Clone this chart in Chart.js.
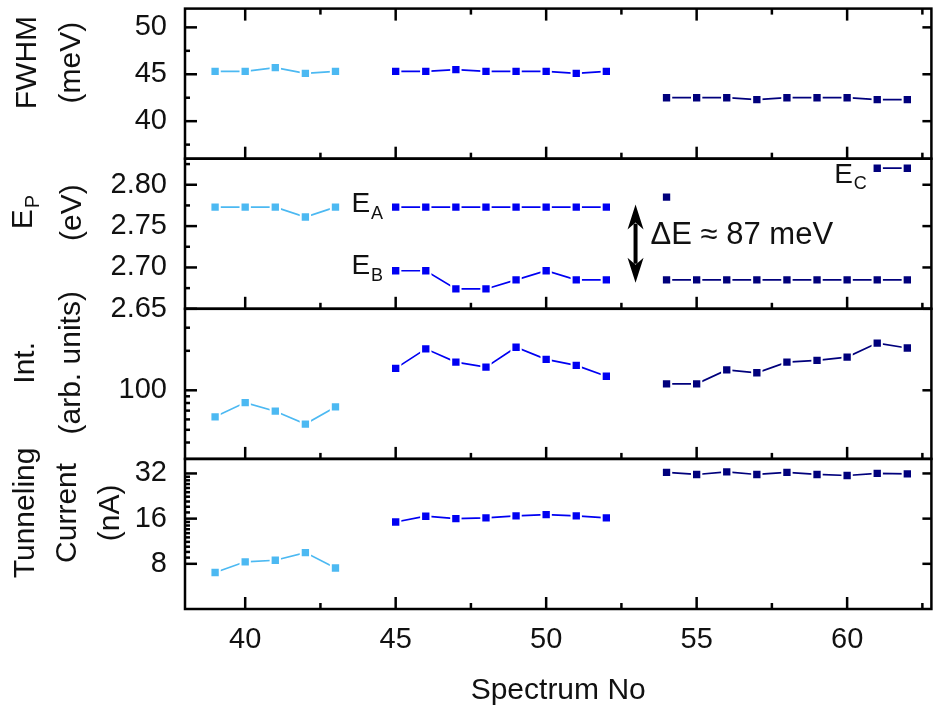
<!DOCTYPE html>
<html>
<head>
<meta charset="utf-8">
<script src="https://cdn.jsdelivr.net/npm/chart.js@4.4.0/dist/chart.umd.min.js"></script>
<style>
  html, body { margin: 0; padding: 0; overflow: hidden; background: #fff; }
  #wrap { width: 940px; height: 713px; }
</style>
</head>
<body>
<div id="wrap"><canvas id="chart" width="940" height="713"></canvas></div>
<script>
// spectrum numbers of the three runs
const spectraA = [39, 40, 41, 42, 43];
const spectraB = [45, 46, 47, 48, 49, 50, 51, 52];
const spectraC = [54, 55, 56, 57, 58, 59, 60, 61, 62];

// FWHM (meV)
const fwhmA = [45.3, 45.3, 45.7, 45.1, 45.3];
const fwhmB = [45.3, 45.3, 45.5, 45.3, 45.3, 45.3, 45.1, 45.3];
const fwhmC = [42.5, 42.5, 42.5, 42.3, 42.5, 42.5, 42.5, 42.3, 42.3];

// peak energies (eV)
const epA = [2.773, 2.773, 2.773, 2.761, 2.773];
const epB_A = [2.773, 2.773, 2.773, 2.773, 2.773, 2.773, 2.773, 2.773];
const epB_B = [2.696, 2.696, 2.674, 2.674, 2.685, 2.696, 2.685, 2.685];
const epC_B = [2.685, 2.685, 2.685, 2.685, 2.685, 2.685, 2.685, 2.685, 2.685];
const epC_C = [2.785, null, null, null, null, null, null, 2.82, 2.82];

// intensity (arb. units)
const intA = [62.8, 80.6, 69.3, 55.3, 74.7];
const intB = [147, 207, 164, 150, 213, 172, 155, 128];
const intC = [112, 112, 143, 136, 164, 169, 179, 229, 210];

// tunneling current (nA)
const curA = [7.0, 8.25, 8.45, 9.5, 7.5];
const curB = [15.2, 16.6, 16.0, 16.2, 16.7, 17.0, 16.7, 16.2];
const curC = [32.5, 31.5, 32.8, 31.5, 32.5, 31.5, 31.0, 32.0, 31.8];

// ticks
const xTicks = [40, 42.5, 45, 47.5, 50, 52.5, 55, 57.5, 60, 62.5];
const fwhmTicks = [37.5, 40, 42.5, 45, 47.5, 50];
const fwhmMajor = [40, 45, 50];
const epTicks = [2.65, 2.675, 2.7, 2.725, 2.75, 2.775, 2.8, 2.825];
const epMajor = [2.65, 2.7, 2.75, 2.8];
const intTicks = [40, 50, 60, 70, 80, 90, 100, 200, 300];
const intMajor = [100];
const curTicks = [8, 8.8, 9.6, 10.4, 11.2, 12, 12.8, 13.6, 14.4, 15.2, 16,
  17.6, 19.2, 20.8, 22.4, 24, 25.6, 27.2, 28.8, 30.4, 32];
const curMajor = [8, 16, 32];

// texts
const xTitle = 'Spectrum No';
const fwhmTitle = [['FWHM'], ['(meV)']];
const epTitle = [['E', 'P'], ['(eV)']];
const intTitle = [['Int.'], ['(arb. units)']];
const curTitle = [['Tunneling'], ['Current'], ['(nA)']];
const deltaLabel = '\u0394E \u2248 87 meV';

const FONT = '"Liberation Sans", Arial, sans-serif';
const LIGHT = '#4cb9f2';
const BLUE = '#0000f2';
const NAVY = '#00007c';
const INK = '#111';

function series(xs, ys, color, axis) {
  return {
    data: xs.map((x, i) => ({ x: x, y: ys[i] })),
    yAxisID: axis,
    borderColor: color,
    backgroundColor: color,
    pointBackgroundColor: color,
    pointBorderColor: '#fff',
    pointBorderWidth: 2,
    pointRadius: 6.6,
    pointStyle: 'rect',
    borderWidth: 1.7,
    spanGaps: false
  };
}

function yScale(type, min, max, ticks, major, fmt) {
  return {
    type: type, min: min, max: max,
    position: 'left', stack: 'panels', stackWeight: 1,
    grid: { display: false, drawTicks: false },
    border: { display: false },
    afterBuildTicks: s => { s.ticks = ticks.map(v => ({ value: v })); },
    afterFit: s => { s.width = 185; s.paddingTop = 0; s.paddingBottom = 0; },
    ticks: {
      autoSkip: false, padding: 18, color: INK,
      font: { size: 29, family: FONT },
      callback: v => major.includes(v) ? fmt(v) : ''
    }
  };
}

// top to bottom
const panels = [
  { id: 'yF', title: fwhmTitle, cols: [28, 72], major: fwhmMajor },
  { id: 'yE', title: epTitle, cols: [24, 73], major: epMajor },
  { id: 'yI', title: intTitle, cols: [26, 72], major: intMajor },
  { id: 'yC', title: curTitle, cols: [26, 68, 111], major: curMajor }
];

function subText(ctx, main, sub, x, y, size, align) {
  const subSize = Math.round(size * 0.66);
  ctx.font = size + 'px ' + FONT;
  const w1 = ctx.measureText(main).width;
  let w2 = 0;
  if (sub) {
    ctx.font = subSize + 'px ' + FONT;
    w2 = ctx.measureText(sub).width;
  }
  const x0 = align === 'center' ? x - (w1 + w2) / 2 : x;
  ctx.textAlign = 'left';
  ctx.textBaseline = 'middle';
  ctx.font = size + 'px ' + FONT;
  ctx.fillText(main, x0, y);
  if (sub) {
    ctx.font = subSize + 'px ' + FONT;
    ctx.fillText(sub, x0 + w1 + 1, y + size * 0.33);
  }
}

function seg(ctx, x1, y1, x2, y2) {
  ctx.beginPath();
  ctx.moveTo(x1, y1);
  ctx.lineTo(x2, y2);
  ctx.stroke();
}

const frame = {
  id: 'frame',
  afterDraw(chart) {
    const ctx = chart.ctx;
    const area = chart.chartArea;
    const xs = chart.scales.x;
    ctx.save();
    ctx.strokeStyle = '#000';
    ctx.fillStyle = INK;
    ctx.lineWidth = 2.5;
    panels.forEach((p, k) => {
      const s = chart.scales[p.id];
      ctx.strokeRect(area.left, s.top, area.right - area.left, s.bottom - s.top);
      s.ticks.forEach(t => {
        const y = s.getPixelForValue(t.value);
        const major = p.major.includes(t.value);
        seg(ctx, area.left, y, area.left + (major ? 12 : 5), y);
        if (major) seg(ctx, area.right, y, area.right - 9, y);
      });
      xTicks.forEach(v => {
        const px = xs.getPixelForValue(v);
        const len = v % 5 === 0 ? 12 : 6;
        seg(ctx, px, s.bottom, px, s.bottom - len);
        if (k === 0) seg(ctx, px, s.top, px, s.top + len);
      });
      // rotated axis titles
      const cy = s.top + 54;
      p.title.forEach((line, i) => {
        ctx.save();
        ctx.translate(p.cols[i], cy);
        ctx.rotate(-Math.PI / 2);
        subText(ctx, line[0], line[1], 0, 0, 30, 'center');
        ctx.restore();
      });
    });

    // labels inside the energy panel
    const ye = chart.scales.yE;
    subText(ctx, 'E', 'A', xs.getPixelForValue(43.53), ye.getPixelForValue(2.776), 28, 'left');
    subText(ctx, 'E', 'B', xs.getPixelForValue(43.53), ye.getPixelForValue(2.701), 28, 'left');
    subText(ctx, 'E', 'C', xs.getPixelForValue(59.57), ye.getPixelForValue(2.812), 28, 'left');
    ctx.font = '31px ' + FONT;
    ctx.textAlign = 'left';
    ctx.textBaseline = 'middle';
    ctx.fillText(deltaLabel, xs.getPixelForValue(53.47), ye.getPixelForValue(2.7385));

    // double arrow
    const ax = xs.getPixelForValue(52.97);
    const y1 = ye.getPixelForValue(2.776);
    const y2 = ye.getPixelForValue(2.6815);
    const head = 25, hw = 8;
    ctx.fillStyle = '#000';
    ctx.lineWidth = 4;
    seg(ctx, ax, y1 + head - 6, ax, y2 - head + 6);
    ctx.beginPath();
    ctx.moveTo(ax, y1);
    ctx.lineTo(ax + hw, y1 + head);
    ctx.lineTo(ax, y1 + head - 7);
    ctx.lineTo(ax - hw, y1 + head);
    ctx.closePath();
    ctx.fill();
    ctx.beginPath();
    ctx.moveTo(ax, y2);
    ctx.lineTo(ax + hw, y2 - head);
    ctx.lineTo(ax, y2 - head + 7);
    ctx.lineTo(ax - hw, y2 - head);
    ctx.closePath();
    ctx.fill();
    ctx.restore();
  }
};

new Chart(document.getElementById('chart'), {
  type: 'line',
  data: {
    datasets: [
      series(spectraA, fwhmA, LIGHT, 'yF'),
      series(spectraB, fwhmB, BLUE, 'yF'),
      series(spectraC, fwhmC, NAVY, 'yF'),
      series(spectraA, epA, LIGHT, 'yE'),
      series(spectraB, epB_A, BLUE, 'yE'),
      series(spectraB, epB_B, BLUE, 'yE'),
      series(spectraC, epC_B, NAVY, 'yE'),
      series(spectraC, epC_C, NAVY, 'yE'),
      series(spectraA, intA, LIGHT, 'yI'),
      series(spectraB, intB, BLUE, 'yI'),
      series(spectraC, intC, NAVY, 'yI'),
      series(spectraA, curA, LIGHT, 'yC'),
      series(spectraB, curB, BLUE, 'yC'),
      series(spectraC, curC, NAVY, 'yC')
    ]
  },
  options: {
    responsive: false,
    animation: false,
    layout: { padding: { left: 0, right: 4, top: 5, bottom: 0 } },
    plugins: { legend: { display: false }, tooltip: { enabled: false } },
    scales: {
      x: {
        type: 'linear', min: 38, max: 62.8,
        grid: { display: false, drawTicks: false },
        border: { display: false },
        afterBuildTicks: s => { s.ticks = xTicks.map(v => ({ value: v })); },
        afterFit: s => { s.height = 104; s.paddingLeft = 0; s.paddingRight = 0; },
        ticks: {
          autoSkip: false, maxRotation: 0, padding: 14, color: INK,
          font: { size: 29, family: FONT },
          callback: v => v % 5 === 0 ? String(v) : ''
        },
        title: {
          display: true, text: xTitle, color: INK,
          font: { size: 30, family: FONT },
          padding: { top: 0, bottom: 4 }
        }
      },
      // stacked left axes are laid out bottom first, so list them bottom to top
      yC: yScale('logarithmic', 4, 40, curTicks, curMajor, v => String(v)),
      yI: yScale('logarithmic', 30, 418, intTicks, intMajor, v => String(v)),
      yE: yScale('linear', 2.65, 2.8315, epTicks, epMajor, v => v.toFixed(2)),
      yF: yScale('linear', 36, 52, fwhmTicks, fwhmMajor, v => String(v))
    }
  },
  plugins: [frame]
});
</script>
</body>
</html>
